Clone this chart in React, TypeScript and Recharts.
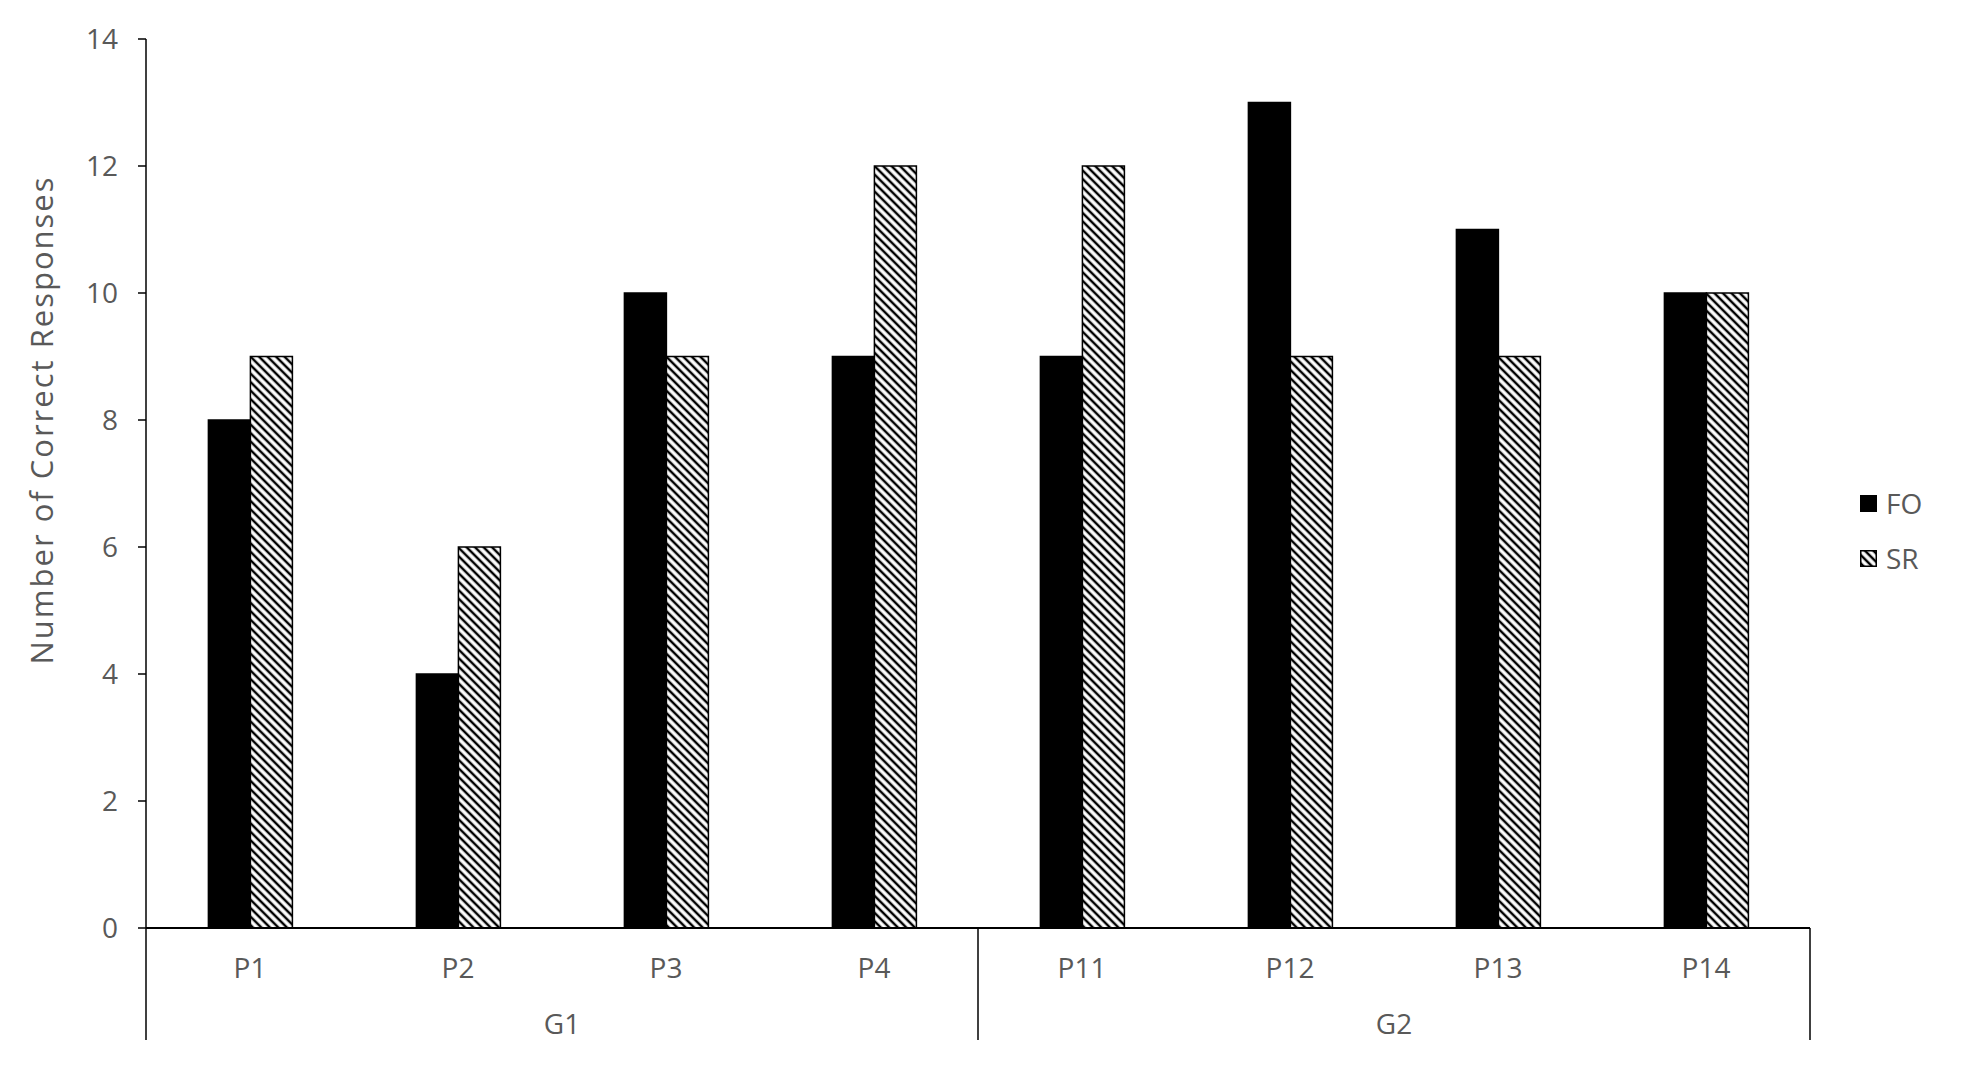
import React from 'react';
import { BarChart, Bar, XAxis, YAxis, Legend, Label } from 'recharts';

// participants and groups, in the order shown on the x axis
const participants = ['P1', 'P2', 'P3', 'P4', 'P11', 'P12', 'P13', 'P14'];
const groups = ['G1', 'G1', 'G1', 'G1', 'G2', 'G2', 'G2', 'G2'];

// number of correct responses per condition
const foValues = [8, 4, 10, 9, 9, 13, 11, 10];
const srValues = [9, 6, 9, 12, 12, 9, 9, 10];

const yTicks = [0, 2, 4, 6, 8, 10, 12, 14];

const data = participants.map((p, i) => ({
  name: p,
  group: groups[i],
  FO: foValues[i],
  SR: srValues[i],
}));

const FONT = '"Open Sans", sans-serif';
const TEXT = '#595959';
const AXIS_H = 56;

const ParticipantTick = (props: any) => {
  const { x, y, payload } = props;
  return (
    <text x={x} y={y + 39} textAnchor="middle" dominantBaseline="central"
      fontSize={28} fill={TEXT} fontFamily={FONT}>
      {payload.value}
    </text>
  );
};

const GroupTick = (props: any) => {
  const { x, y, payload, index, visibleTicksCount } = props;
  const half = payload.offset || 416;
  const top = y - AXIS_H;
  const bottom = y + AXIS_H;
  return (
    <g>
      <line x1={x - half} x2={x - half} y1={top} y2={bottom} stroke="#000" strokeWidth={1.5} />
      {index === visibleTicksCount - 1 && (
        <line x1={x + half} x2={x + half} y1={top} y2={bottom} stroke="#000" strokeWidth={1.5} />
      )}
      <text x={x} y={y + 39} textAnchor="middle" dominantBaseline="central"
        fontSize={28} fill={TEXT} fontFamily={FONT}>
        {payload.value}
      </text>
    </g>
  );
};

const LegendBox = () => (
  <div style={{ fontFamily: FONT, fontSize: 28, color: TEXT }}>
    <div style={{ display: 'flex', alignItems: 'center', height: 34 }}>
      <svg width={17} height={17} style={{ marginRight: 9 }}>
        <rect x={0.5} y={0.5} width={16} height={16} fill="#000" stroke="#000" />
      </svg>
      FO
    </div>
    <div style={{ display: 'flex', alignItems: 'center', height: 34, marginTop: 21 }}>
      <svg width={17} height={17} style={{ marginRight: 9 }}>
        <defs>
          <pattern id="hatchLegend" patternUnits="userSpaceOnUse" width={6} height={6}
            patternTransform="rotate(-45)">
            <rect width={6} height={6} fill="#fff" />
            <line x1={3} y1={0} x2={3} y2={6} stroke="#000" strokeWidth={2.5} />
          </pattern>
        </defs>
        <rect x={0.75} y={0.75} width={15.5} height={15.5} fill="url(#hatchLegend)" stroke="#000" strokeWidth={1.5} />
      </svg>
      SR
    </div>
  </div>
);

export default function App() {
  return (
    <div style={{ position: 'absolute', left: 0, top: 0, background: '#fff' }}>
      <BarChart
        width={1961}
        height={1065}
        data={data}
        margin={{ top: 39, right: 151, left: 0, bottom: 25 }}
        barCategoryGap="30%"
        barGap={0}
        style={{ fontFamily: FONT }}
      >
        <defs>
          <pattern id="hatch" patternUnits="userSpaceOnUse" width={6} height={6}
            patternTransform="rotate(-45)">
            <rect width={6} height={6} fill="#fff" />
            <line x1={3} y1={0} x2={3} y2={6} stroke="#000" strokeWidth={2.5} />
          </pattern>
        </defs>
        <XAxis
          xAxisId="inner"
          dataKey="name"
          height={AXIS_H}
          tickLine={false}
          tickSize={0}
          tickMargin={0}
          axisLine={{ stroke: '#000', strokeWidth: 2 }}
          tick={<ParticipantTick />}
          interval={0}
        />
        <XAxis
          xAxisId="outer"
          dataKey="group"
          allowDuplicatedCategory={false}
          height={AXIS_H}
          tickLine={false}
          tickSize={0}
          tickMargin={0}
          axisLine={false}
          tick={<GroupTick />}
          interval={0}
        />
        <YAxis
          width={146}
          domain={[0, 14]}
          ticks={yTicks}
          interval={0}
          tickSize={8}
          tickMargin={20}
          axisLine={{ stroke: '#000', strokeWidth: 1.5 }}
          tickLine={{ stroke: '#000', strokeWidth: 1.5 }}
          tick={{ fill: TEXT, fontSize: 28, fontFamily: FONT }}
        >
          <Label
            content={() => (
              <text x={41} y={420} transform="rotate(-90 41 420)" textAnchor="middle"
                dominantBaseline="central" fontSize={31} letterSpacing={2} fill={TEXT} fontFamily={FONT}>
                Number of Correct Responses
              </text>
            )}
          />
        </YAxis>
        <Legend
          layout="vertical"
          align="center"
          verticalAlign="middle"
          content={<LegendBox />}
          wrapperStyle={{ position: 'absolute', left: 1860, top: 486, width: 100 }}
        />
        <Bar xAxisId="inner" dataKey="FO" fill="#000" stroke="#000" strokeWidth={1.5} isAnimationActive={false} />
        <Bar xAxisId="inner" dataKey="SR" fill="url(#hatch)" stroke="#000" strokeWidth={1.5} isAnimationActive={false} />
      </BarChart>
    </div>
  );
}
